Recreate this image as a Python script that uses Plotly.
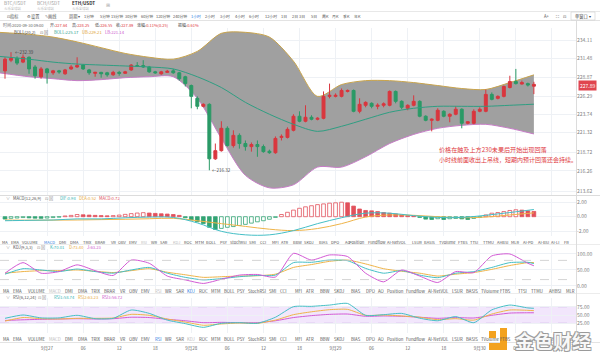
import math
import pandas as pd
import plotly.graph_objects as go

# ---------------- data ----------------
T0 = pd.Timestamp("2020-09-26 17:00")   # first hourly candle

opens = [229.77, 231.26, 231.53, 230.99, 231.67, 230.31, 228.95, 230.04, 229.50, 229.77,
         229.36, 230.04, 230.31, 230.58, 229.90, 229.43, 229.56, 229.50, 229.22, 229.56,
         229.43, 229.90, 230.51, 230.51, 230.31, 229.63, 229.36, 229.56, 229.77, 229.50,
         228.95, 227.73, 225.97, 224.88, 225.15, 217.83, 218.91, 221.90, 219.59, 220.95,
         219.86, 219.45, 219.73, 219.45, 218.84, 218.64, 220.68, 220.68, 221.63, 223.53,
         222.85, 223.39, 223.12, 223.25, 226.24, 226.24, 226.24, 226.92, 227.05, 224.20,
         225.02, 225.29, 224.88, 225.02, 225.02, 226.92, 225.56, 224.61, 225.02, 225.56,
         223.53, 222.98, 222.98, 224.20, 223.53, 223.80, 224.48, 222.58, 222.58, 224.20,
         224.20, 226.51, 225.97, 226.24, 227.46, 228.28, 227.94, 228.00, 227.64]
highs = [231.67, 232.39, 231.80, 232.07, 231.80, 230.58, 230.31, 230.18, 229.90, 229.90,
         230.04, 230.58, 231.67, 230.72, 230.04, 229.63, 229.63, 229.63, 229.77, 229.77,
         229.77, 230.72, 230.99, 231.26, 230.45, 229.77, 229.77, 229.90, 230.04, 229.63,
         229.09, 227.87, 226.24, 225.29, 225.29, 219.86, 222.85, 222.17, 221.63, 221.22,
         220.27, 220.00, 220.27, 219.73, 219.05, 220.81, 221.08, 222.03, 223.80, 224.20,
         225.02, 223.66, 223.39, 226.92, 228.00, 226.65, 227.33, 227.19, 227.19, 225.97,
         225.56, 225.42, 225.29, 225.42, 227.05, 227.05, 225.70, 225.15, 226.38, 225.70,
         223.66, 223.25, 224.61, 224.34, 223.93, 224.88, 224.61, 222.85, 224.48, 224.75,
         227.19, 226.78, 226.38, 227.73, 229.09, 230.04, 228.41, 228.14, 228.25]
lows = [228.68, 230.99, 230.58, 230.85, 229.36, 228.68, 228.68, 228.00, 229.22, 229.36,
        229.22, 229.90, 230.18, 229.90, 229.22, 228.95, 228.82, 228.95, 229.09, 229.09,
        229.36, 229.77, 230.31, 230.18, 229.50, 229.36, 229.22, 229.50, 229.36, 228.41,
        227.60, 224.61, 224.48, 224.75, 216.32, 217.69, 218.78, 219.45, 219.32, 219.18,
        218.91, 218.78, 218.10, 218.64, 218.50, 218.50, 220.27, 220.54, 221.49, 222.71,
        222.71, 222.98, 222.98, 223.12, 225.97, 226.10, 226.10, 226.78, 224.07, 223.93,
        224.75, 224.61, 224.48, 224.75, 224.88, 225.29, 224.48, 224.34, 224.88, 223.39,
        222.85, 221.49, 222.85, 223.39, 222.71, 223.66, 221.90, 222.44, 222.44, 224.07,
        224.07, 225.70, 225.83, 226.10, 227.33, 227.87, 227.87, 227.60, 226.55]
closes = [231.40, 231.53, 230.85, 231.67, 230.04, 229.09, 230.04, 229.50, 229.77, 229.63,
          229.90, 230.31, 230.51, 230.04, 229.50, 229.56, 229.36, 229.22, 229.56, 229.43,
          229.63, 230.58, 230.38, 230.31, 229.63, 229.50, 229.63, 229.70, 229.50, 228.68,
          228.00, 226.24, 224.88, 225.15, 217.83, 218.91, 221.90, 219.59, 220.95, 219.86,
          219.45, 219.73, 219.45, 218.78, 218.64, 220.54, 220.81, 221.76, 223.53, 222.85,
          223.39, 223.12, 223.25, 226.24, 226.38, 226.38, 227.05, 227.05, 224.20, 225.15,
          225.42, 224.88, 225.02, 225.22, 226.92, 225.56, 224.75, 225.02, 225.56, 223.53,
          222.98, 223.12, 224.34, 223.53, 223.80, 224.48, 222.58, 222.78, 224.20, 224.48,
          226.51, 225.83, 226.24, 227.60, 228.28, 228.00, 228.14, 227.80, 227.89]

band_hours = [-1, 4, 8, 12, 16, 20, 24, 28, 32, 36, 40, 44, 48, 52, 56, 60, 64, 68, 72, 76, 80, 84, 88]
boll_ub = [235.20, 234.92, 234.52, 233.84, 233.02, 232.21, 231.67, 231.40, 232.50, 235.06, 235.20, 234.52,
           231.12, 226.24, 227.87, 228.41, 228.41, 228.14, 227.73, 227.32, 227.19, 228.14, 229.21]
boll_mid = [231.80, 231.40, 230.99, 230.72, 230.58, 230.45, 230.31, 230.04, 228.95, 227.46, 225.42, 223.80,
            222.44, 221.49, 222.17, 223.12, 224.07, 224.61, 224.88, 224.88, 224.88, 225.02, 225.17]
boll_lb = [229.50, 228.95, 228.68, 228.41, 228.55, 228.82, 228.95, 228.95, 225.97, 220.54, 215.66, 214.03,
           214.43, 216.74, 216.74, 218.10, 219.86, 221.08, 221.90, 222.30, 222.44, 221.90, 221.14]

macd_hist = [-0.32, -0.22, -0.18, -0.12, -0.16, -0.20, -0.22, -0.18, -0.12, -0.06,
             0.10, 0.18, 0.30, 0.26, 0.22, 0.18, 0.15, 0.12, 0.15, 0.22,
             0.32, 0.42, 0.50, 0.55, 0.50, 0.45, 0.40, 0.36, 0.30, 0.18,
             -0.15, -0.45, -0.70, -0.95, -1.45, -1.75, -1.60, -1.45, -1.35, -1.20,
             -1.05, -0.88, -0.70, -0.55, -0.35, -0.10, 0.30, 0.60, 0.90, 1.15,
             1.35, 1.50, 1.65, 1.75, 1.85, 1.90, 1.98, 1.90, 1.45, 1.05,
             0.85, 0.80, 0.70, 0.57, 0.48, 0.38, 0.24, 0.14, 0.08, -0.10,
             -0.33, -0.38, -0.28, -0.38, -0.28, -0.24, -0.30, -0.38, -0.24, -0.10,
             0.24, 0.48, 0.57, 0.70, 0.85, 0.95, 0.90, 0.80, 0.72]
line_hours = [0, 4, 8, 12, 16, 20, 24, 28, 32, 36, 40, 44, 48, 52, 56, 60, 64, 68, 72, 76, 80, 84, 88]
dif = [-0.55, -0.50, -0.45, -0.30, -0.30, -0.15, -0.05, -0.10, -0.85, -2.00, -2.48, -2.48,
       -1.90, -0.95, -0.14, 0.48, 0.48, 0.14, -0.10, -0.10, 0.19, 0.57, 0.98]
dea = [-0.45, -0.48, -0.47, -0.45, -0.40, -0.35, -0.28, -0.22, -0.55, -0.95, -1.33, -1.71,
       -1.90, -1.62, -0.95, -0.05, 0.24, 0.19, 0.00, -0.14, -0.05, 0.24, 0.52]

osc_hours = [0, 3, 6, 9, 12, 15, 18, 21, 24, 27, 30, 33, 36, 39, 42, 45, 48, 51, 54, 57,
             60, 63, 66, 69, 72, 75, 78, 81, 84, 87, 88]
k_vals = [37, 54, 50, 45, 53, 45, 40, 50, 58, 40, 27, 19, 23, 29, 33, 34, 73, 74, 81, 79,
          55, 40, 48, 34, 26, 40, 45, 58, 73, 74, 70.01]
d_vals = [40, 45, 48, 48, 50, 46, 42, 48, 54, 43, 35, 27, 29, 31, 32, 37, 58, 67, 77, 81,
          69, 54, 46, 40, 31, 37, 42, 52, 64, 73, 73.40]
j_vals = [40, 73, 40, 45, 66, 48, 33, 81, 71, 31, 19, 8, 21, 34, 36, 28, 102, 81, 97, 92,
          40, 13, 50, 31, 11, 45, 42, 94, 100, 71, 63.23]
rsi1 = [39.6, 50, 41, 41, 49, 38.5, 39.6, 65.6, 55, 34, 23, 11.5, 24, 26, 24, 43, 76, 77, 81, 86,
        49, 51, 55, 40, 32, 45, 26, 66, 81, 72, 71]
rsi2 = [31, 42, 38.5, 37.5, 39.6, 39.6, 40.6, 52, 49, 37.5, 28, 18, 22, 25, 24, 34, 51, 60, 66.6, 67.6,
        49, 50, 47, 43, 35.5, 38.5, 34, 53, 65.6, 64.5, 63.5]
rsi3 = [33, 35, 36.5, 37.5, 38.5, 37.5, 38.5, 43, 42, 36.5, 32, 26, 27, 26, 26, 32, 42, 48, 52, 53,
        46, 47, 46, 43, 39.6, 42, 40.6, 49, 56, 57, 57]

price_ticks = [234.11, 231.48, 228.87, 226.29, 223.74, 221.32, 218.72, 216.26, 213.62]
macd_ticks = [-2, 0, 2]
kdj_ticks = [0, 50, 100]
rsi_ticks = [25, 50, 75]
time_tick_hours = [7, 13, 19, 25, 31, 37, 43, 49, 55, 61, 67, 73, 79, 85, 91]
time_tick_text = ["9月27", "06", "12", "18", "9月28", "06", "12", "18",
                  "9月29", "06", "12", "18", "9月30", "06", "12"]
last_price = 227.89
max_high_label = "232.39"
min_low_label = "216.32"

# ---------------- helpers / styles ----------------
W, H = 600, 355
PX_X0, PX_STEP, PLOT_R = 5.0, 6.01, 576.0
FONT = "Noto Sans CJK SC, Noto Sans, Arial, sans-serif"
RED, GREEN = "#d9363e", "#2a9a66"
RED_H, GREEN_H = "#e2515c", "#33a474"
TEAL, GOLD, MAG = "#45bfc6", "#efb449", "#d35ad5"
GRID = "#eef1f5"


def fx(px):
    return px / W


def fy(py):
    return 1 - py / H


def at(hours):
    return [T0 + pd.Timedelta(hours=h) for h in hours]


x_range = [T0 + pd.Timedelta(hours=-PX_X0 / PX_STEP),
           T0 + pd.Timedelta(hours=(PLOT_R - PX_X0) / PX_STEP)]
lpp = (math.log10(234.11) - math.log10(213.62)) / (191 - 40)
main_range = [math.log10(213.62) - 4 * lpp, math.log10(234.11) + 12 * lpp]

fig = go.Figure()

# Bollinger band (base axis y), candles + middle line on overlaying axis y5 (drawn above)
bt = at(band_hours)
fig.add_trace(go.Scatter(x=bt, y=boll_ub, mode="lines", line=dict(color="#c9a44c", width=1, shape="spline", smoothing=0.8),
                         xaxis="x", yaxis="y", hoverinfo="skip"))
fig.add_trace(go.Scatter(x=bt, y=boll_lb, mode="lines", fill="tonexty", fillcolor="#a0a0a0",
                         line=dict(color="#c77cc7", width=1, shape="spline", smoothing=0.8),
                         xaxis="x", yaxis="y", hoverinfo="skip"))

ct = at(range(len(opens)))
fig.add_trace(go.Candlestick(x=ct, open=opens, high=highs, low=lows, close=closes,
                             increasing=dict(line=dict(color=RED, width=1), fillcolor=RED),
                             decreasing=dict(line=dict(color=GREEN, width=1), fillcolor=GREEN),
                             whiskerwidth=0, xaxis="x", yaxis="y5", hoverinfo="skip"))
fig.add_trace(go.Scatter(x=bt, y=boll_mid, mode="lines", line=dict(color="#2f9e82", width=1, shape="spline", smoothing=0.8),
                         xaxis="x", yaxis="y5", hoverinfo="skip"))

# MACD
fills, lines = [], []
for i, v in enumerate(macd_hist):
    prev = macd_hist[i - 1] if i else v
    col = RED_H if v >= 0 else GREEN_H
    lines.append(col)
    fills.append("white" if v > prev else col)
fig.add_trace(go.Bar(x=ct, y=macd_hist, width=0.62 * 3600 * 1000,
                     marker=dict(color=fills, line=dict(color=lines, width=0.8)),
                     xaxis="x2", yaxis="y2", hoverinfo="skip"))
lt = at(line_hours)
fig.add_trace(go.Scatter(x=lt, y=dea, mode="lines", line=dict(color=GOLD, width=1, shape="spline"),
                         xaxis="x2", yaxis="y2", hoverinfo="skip"))
fig.add_trace(go.Scatter(x=lt, y=dif, mode="lines", line=dict(color=TEAL, width=1, shape="spline"),
                         xaxis="x2", yaxis="y2", hoverinfo="skip"))

# KDJ
ot = at(osc_hours)
for vals, col in [(d_vals, GOLD), (k_vals, TEAL), (j_vals, MAG)]:
    fig.add_trace(go.Scatter(x=ot, y=vals, mode="lines", line=dict(color=col, width=1, shape="spline", smoothing=0.6),
                             xaxis="x3", yaxis="y3", hoverinfo="skip"))
# RSI
for vals, col in [(rsi3, MAG), (rsi2, GOLD), (rsi1, TEAL)]:
    fig.add_trace(go.Scatter(x=ot, y=vals, mode="lines", line=dict(color=col, width=1, shape="spline", smoothing=0.6),
                             xaxis="x4", yaxis="y4", hoverinfo="skip"))

# ---------------- axes ----------------
xcommon = dict(domain=[0, fx(PLOT_R)], range=x_range, showgrid=True, gridcolor=GRID, gridwidth=1,
               tickvals=at(time_tick_hours), showticklabels=False, zeroline=False, showline=False,
               fixedrange=True, ticks="")
ycommon = dict(side="right", showgrid=True, gridcolor=GRID, zeroline=False, showline=False, ticks="",
               ticklen=0, tickfont=dict(size=5, color="#808080", family=FONT), fixedrange=True)

layout_axes = dict(
    xaxis=dict(**xcommon, anchor="y", rangeslider=dict(visible=False)),
    xaxis2=dict(**xcommon, anchor="y2", matches="x"),
    xaxis3=dict(**xcommon, anchor="y3", matches="x"),
    xaxis4=dict(**{k: v for k, v in xcommon.items() if k != "showticklabels"}, anchor="y4", matches="x",
                showticklabels=True, ticktext=time_tick_text, ticklabelstandoff=11,
                tickfont=dict(size=4.5, color="#666", family=FONT)),
    yaxis=dict(**ycommon, anchor="x", domain=[fy(195), fy(28)], type="log", range=main_range,
               tickvals=price_ticks, ticktext=[f"{v:.2f}" for v in price_ticks]),
    yaxis5=dict(overlaying="y", anchor="x", side="right", type="log", range=main_range, showgrid=False,
                showticklabels=False, zeroline=False, showline=False, ticks="", fixedrange=True),
    yaxis2=dict(**ycommon, anchor="x2", domain=[fy(236), fy(199)], range=[-2.64, 2.42],
                tickvals=macd_ticks, ticktext=[f"{v:.2f}" for v in macd_ticks]),
    yaxis3=dict(**ycommon, anchor="x3", domain=[fy(289), fy(249)], range=[-9.4, 115.6],
                tickvals=kdj_ticks, ticktext=[f"{v:.2f}" for v in kdj_ticks]),
    yaxis4=dict(**ycommon, anchor="x4", domain=[fy(333), fy(298)], range=[-6.25, 103.1],
                tickvals=rsi_ticks, ticktext=[f"{v:.2f}" for v in rsi_ticks]),
)

# ---------------- shapes ----------------
shapes = []


def pline(x0, y0, x1, y1, color="#e3e3e3", width=1, dash=None):
    shapes.append(dict(type="line", xref="paper", yref="paper", x0=fx(x0), y0=fy(y0), x1=fx(x1), y1=fy(y1),
                       line=dict(color=color, width=width, dash=dash)))


pline(0, 11.5, 600, 11.5, "#e8e8e8")
pline(0, 20.5, 600, 20.5, "#e3e3e3")
pline(0, 195.5, 600, 195.5, "#dcdcdc")
pline(0, 244.5, 600, 244.5, "#ececec")
pline(0, 293.5, 600, 293.5, "#ececec")
pline(0, 342.5, 600, 342.5, "#e3e3e3")
pline(576.5, 20.5, 576.5, 342.5, "#dcdcdc")

for lvl in (80, 20):
    shapes.append(dict(type="line", xref="paper", yref="y3", x0=0, x1=fx(PLOT_R), y0=lvl, y1=lvl,
                       line=dict(color="#c9c9c9", width=0.8, dash="dash")))
shapes.append(dict(type="rect", xref="paper", yref="y4", x0=0, x1=fx(PLOT_R), y0=25, y1=75,
                   fillcolor="#f2e6fc", line=dict(width=0), layer="below"))
for lvl in (75, 25):
    shapes.append(dict(type="line", xref="paper", yref="y4", x0=0, x1=fx(PLOT_R), y0=lvl, y1=lvl,
                       line=dict(color="#d9c2ee", width=0.8, dash="dash"), layer="below"))

# watermark logo
for (x0, y0, x1, y1) in [(500, 328, 507, 350), (489, 343, 507, 350), (489, 331, 496, 338)]:
    shapes.append(dict(type="rect", xref="paper", yref="paper", x0=fx(x0), x1=fx(x1), y0=fy(y1), y1=fy(y0),
                       fillcolor="#f3a21f", line=dict(width=0)))
# "单窗口" box
shapes.append(dict(type="rect", xref="paper", yref="paper", x0=fx(571), x1=fx(595), y0=fy(20), y1=fy(12),
                   fillcolor="white", line=dict(color="#cfcfcf", width=0.6)))

# ---------------- annotations ----------------
ann = []


def txt(x, y, s, size=4.2, color="#666", anchor="left", **kw):
    d = dict(x=fx(x), y=fy(y), xref="paper", yref="paper", text=s, showarrow=False, xanchor=anchor,
             yanchor="middle", font=dict(size=size, color=color, family=FONT))
    d.update(kw)
    ann.append(d)


# top tabs
txt(2, 3.5, "BTC/USDT", 4.6, "#999")
txt(35, 3.5, "BCH/USDT", 4.6, "#999")
txt(70, 3.5, "<b>ETH/USDT</b>", 4.6, "#333")
for x in (2, 35, 70):
    txt(x, 8.5, "火币全球站", 3.4, "#bbb")
txt(104, 5, "⊞", 4.5, "#aaa")

# toolbar
for s, x in [("⊡指标", 5), ("⚙设置", 25), ("✎画线", 43), ("周期 ▾", 67)]:
    txt(x, 16, s, 4.2, "#555")
periods = ["1分钟", "5分钟", "15分钟", "30分钟", "60分钟", "120分钟", "240分钟", "1小时", "2小时", "3小时",
           "4小时", "6小时", "12小时", "1日", "2日", "3日", "5日", "周K", "月K", "季K", "年K"]
period_x = [89, 105, 117, 131, 147, 163, 180, 196, 210, 225, 240, 254, 271, 284, 295, 302, 314, 325, 335, 346, 357]
for s, x in zip(periods, period_x):
    txt(x, 16, s, 3.9, "#2f7de1" if s == "1小时" else "#555", "center")
txt(547, 16, "A+", 4.2, "#555", "center")
txt(557, 16, "⛶", 4.2, "#555", "center")
txt(564, 16, "⊡", 4.2, "#555", "center")
txt(583, 16, "单窗口 ▾", 4.2, "#444", "center")

# info row
R = "#e0393e"
txt(1, 25, "时间:2020-09-30 09:00", 4.0, "#666")
for lbl, val, x in [("开", "227.64", 48), ("高", "228.25", 70), ("低", "226.55", 93), ("收", "227.89", 114)]:
    txt(x, 25, f"{lbl}:<span style='color:{R}'>{val}</span>", 4.0, "#444")
txt(135, 25, f"涨幅:<span style='color:{R}'>0.11%(0.25)</span>", 4.0, "#444")
txt(176, 25, f"振幅:<span style='color:{R}'>0.61%</span>", 4.0, "#444")

# legends
name_end = {"MACD(12,26,9)": 43, "KDJ(9,3,3)": 35, "RSI(6,12,24)": 36}


def legend_row(y, name, items):
    txt(4, y, "∨", 4.0, "#888")
    txt(11, y, name, 4.2, "#555")
    txt(name_end[name], y, "⊡ ⊠", 4.2, "#888")
    for s, x, c in items:
        txt(x, y, s, 4.2, c)


txt(12, 32, "BOLL(20,2)", 4.2, "#444")
txt(38, 32, "⊡ ⊠", 4.2, "#777")
txt(52, 32, "BOLL:225.17", 4.2, "#1f9e8c")
txt(80, 32, "UB:229.21", 4.2, "#e0a030")
txt(103, 32, "LB:221.14", 4.2, "#cc55cc")
legend_row(198, "MACD(12,26,9)", [("DIF:0.98", 58, "#36b5b5"), ("DEA:0.52", 77, "#e8a93a"), ("MACD:0.72", 97, "#e0505a")])
legend_row(247.5, "KDJ(9,3,3)", [("K:70.01", 48, "#36b5b5"), ("D:73.40", 67, "#e8a93a"), ("J:63.23", 85, "#cc55cc")])
legend_row(297, "RSI(6,12,24)", [("RSI1:58.74", 52, "#36b5b5"), ("RSI2:63.23", 76, "#e8a93a"), ("RSI3:56.72", 100, "#cc55cc")])

# indicator tab rows
tabs = ["MA", "EMA", "VOLUME", "MACD", "DMI", "DMA", "TRIX", "BRAR", "VR", "OBV", "EMV", "RSI", "WR", "SAR",
        "KDJ", "ROC", "MTM", "BOLL", "PSY", "StochRSI", "SMI", "CCI", "MFI", "ATR", "BBW", "SKDJ", "BIAS",
        "DPO", "AO", "Position", "Fundflow", "AI-NetVOL", "LSUR", "BASIS", "TVolume", "FTBS", "TTSI", "TTMU",
        "AHBSI", "MLR", "AI-PD", "AI-BSI", "AI-LI", "FR"]
row1_x = [5, 15, 30, 49, 62, 74, 87, 100, 113, 123, 133, 144, 154, 164, 176, 188, 199, 211, 224, 238, 252,
          263, 275, 285, 297, 309, 323, 335, 347, 357, 377, 397, 417, 430, 447, 463, 474, 488, 502, 515,
          528, 543, 555, 566]
row2_x = [6, 17, 36, 55, 69, 82, 96, 109, 122, 133, 145, 158, 168, 180, 191, 203, 216, 229, 241, 257, 272,
          283, 298, 310, 325, 339, 356, 370, 381, 395, 415, 438, 457, 472, 490, 505, 522, 537, 555, 570]
for row_y, xs, active, used, size in [(241.5, row1_x, "MACD", ("RSI", "KDJ"), 4.0),
                                      (290.5, row2_x, "KDJ", ("MACD", "RSI"), 4.3),
                                      (339.0, row2_x, "RSI", ("MACD", "KDJ"), 4.3)]:
    for s, x in zip(tabs, xs):
        c = "#2f7de1" if s == active else ("#bdbdbd" if s in used else "#555")
        txt(x, row_y, s, size, c, "center")

# high / low markers
ann.append(dict(x=T0 + pd.Timedelta(hours=1), y=math.log10(float(max_high_label)), xref="x", yref="y",
                text="←" + max_high_label, showarrow=False, xanchor="left", xshift=2, yanchor="middle",
                font=dict(size=4.5, color="#444", family=FONT)))
ann.append(dict(x=T0 + pd.Timedelta(hours=34), y=math.log10(float(min_low_label)), xref="x", yref="y",
                text="←" + min_low_label, showarrow=False, xanchor="left", xshift=1, yanchor="middle",
                font=dict(size=4.5, color="#444", family=FONT)))

# current price tag
ann.append(dict(x=fx(587), y=fy(85.5), xref="paper", yref="paper", text=f"{last_price:.2f}",
                showarrow=False, xanchor="center", yanchor="middle", bgcolor="#e0454f", borderpad=1,
                font=dict(size=5, color="white", family=FONT)))

# comment
txt(437, 149, "价格在触及上方230未果后开始出现回落", 6.1, "#e0393e")
txt(437, 159, "小时线前面收出上吊线，短期内预计回落还会持续。", 6.0, "#e0393e")

# watermark
ann.append(dict(x=fx(553), y=fy(340), xref="paper", yref="paper", text="<b>金色财经</b>", showarrow=False,
                xanchor="center", yanchor="middle",
                font=dict(size=19, color="rgba(255,255,255,0.95)", family=FONT,
                          shadow="1px 1px 0 #9a9a9a, -1px -1px 0 #9a9a9a, 1px -1px 0 #9a9a9a, -1px 1px 0 #9a9a9a")))

fig.update_layout(width=W, height=H, margin=dict(l=0, r=0, t=0, b=0), paper_bgcolor="white",
                  plot_bgcolor="rgba(0,0,0,0)", showlegend=False, shapes=shapes, annotations=ann,
                  bargap=0, **layout_axes)

fig.write_html("out.html", config={"displayModeBar": False, "staticPlot": True},
               post_script="document.body.style.margin='0';document.body.style.padding='0';"
                           "document.documentElement.style.margin='0';")
